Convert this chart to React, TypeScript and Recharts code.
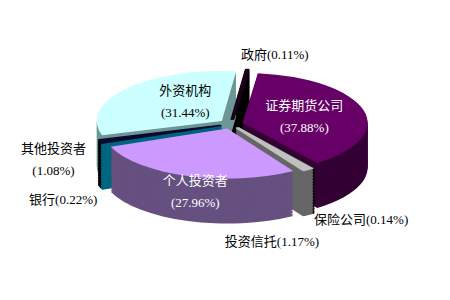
import { Pie, PieChart, Sector } from "recharts"

const names = ["证券期货公司", "保险公司", "投资信托", "个人投资者", "银行", "其他投资者", "外资机构", "政府"]
const shares = [37.88, 0.14, 1.17, 27.96, 0.22, 1.08, 31.44, 0.11]
const shareLabels = ["37.88%", "0.14%", "1.17%", "27.96%", "0.22%", "1.08%", "31.44%", "0.11%"]

const topColors = ["#660066", "#2a2a2a", "#c0c0c0", "#cc99ff", "#006680", "#0a0a30", "#ccffff", "#1a001a"]
const sideColors = ["#330033", "#000000", "#666666", "#665080", "#006680", "#000000", "#6e9696", "#000000"]

// back-to-front order for painting the side walls
const paintOrder = [7, 6, 0, 5, 4, 1, 2, 3]

// label placement: f = fraction of radius along the slice middle, dx/dy = page px nudges
const labelLayout = [
    { f: 0.607, dx: 0, dy: 0, split: true, color: "#ffffff" },
    { f: 1, dx: 56, dy: 55, split: false, color: "#000000" },
    { f: 1, dx: -29, dy: 76, split: false, color: "#000000" },
    { f: 0.904, dx: 0, dy: 24, split: true, color: "#ffffff" },
    { f: 1, dx: -51, dy: 57, split: false, color: "#000000" },
    { f: 1, dx: -59, dy: 19, split: true, color: "#000000" },
    { f: 0.477, dx: 0, dy: -8, split: true, color: "#000000" },
    { f: 1, dx: 29, dy: -20, split: false, color: "#000000" },
]

const data = names.map((name, i) => ({ name, value: shares[i], fill: topColors[i], thin: shares[i] < 2 }))

const W = 450
const H = 300
const CX = 226
const CY = 122
const R = 125
const RY = 50
const K = RY / R
const DEPTH = 45
const EXPLODE = 12
const LAYERS = 30
const START = 83
const FONT = "'Liberation Serif', 'Noto Sans CJK SC', serif"

const ExplodedSector = (props: any) => {
    if (props.fill === "none") return <g />
    const rad = (-props.midAngle * Math.PI) / 180
    const thin = props.payload?.thin
    return (
        <Sector
            {...props}
            cx={props.cx + EXPLODE * Math.cos(rad)}
            cy={props.cy + EXPLODE * Math.sin(rad)}
            stroke={thin ? props.fill : "none"}
            strokeWidth={thin ? 4 : 0}
            strokeLinejoin="round"
        />
    )
}

const renderLabel = (props: any) => {
    const { cx, cy, midAngle, outerRadius, index } = props
    const lay = labelLayout[index]
    const m = ((90 - midAngle) * Math.PI) / 180
    const ux = cx + outerRadius * lay.f * Math.sin(m) + lay.dx
    const uy = cy - outerRadius * lay.f * Math.cos(m) + lay.dy / K
    const name = names[index]
    const pct = `(${shareLabels[index]})`
    return (
        <text
            transform={`translate(${ux},${uy}) scale(1,${1 / K})`}
            textAnchor="middle"
            fill={lay.color}
            fontSize={13}
            fontFamily={FONT}
            dominantBaseline="central"
        >
            {lay.split ? (
                <>
                    <tspan x={0} y={-11}>{name}</tspan>
                    <tspan x={0} y={11}>{pct}</tspan>
                </>
            ) : (
                <tspan x={0} y={0}>{name + pct}</tspan>
            )}
        </text>
    )
}

const layerOffsets = Array.from({ length: LAYERS }, (_, i) => ((LAYERS - i) * DEPTH) / LAYERS / K)

export default function App() {
    const uh = H / K
    const ucy = CY / K
    return (
        <div style={{ position: "absolute", left: 0, top: 0, width: W, height: H, overflow: "hidden", background: "#fff" }}>
            <div style={{ width: W, height: uh, transform: `scaleY(${K})`, transformOrigin: "0 0" }}>
                <PieChart width={W} height={uh}>
                    {paintOrder.map((s) => {
                        const wall = names.map((name, i) => ({
                            name,
                            value: shares[i],
                            fill: i === s ? sideColors[i] : "none",
                            thin: shares[i] < 2,
                        }))
                        return layerOffsets.map((off, li) => (
                            <Pie
                                key={`${s}-${li}`}
                                data={wall}
                                dataKey="value"
                                cx={CX}
                                cy={ucy + off}
                                outerRadius={R}
                                startAngle={START}
                                endAngle={START - 360}
                                stroke="none"
                                shape={ExplodedSector}
                                isAnimationActive={false}
                            />
                        ))
                    })}
                    <Pie
                        data={data}
                        dataKey="value"
                        cx={CX}
                        cy={ucy}
                        outerRadius={R}
                        startAngle={START}
                        endAngle={START - 360}
                        stroke="none"
                        shape={ExplodedSector}
                        label={renderLabel}
                        labelLine={false}
                        isAnimationActive={false}
                    />
                </PieChart>
            </div>
        </div>
    )
}
